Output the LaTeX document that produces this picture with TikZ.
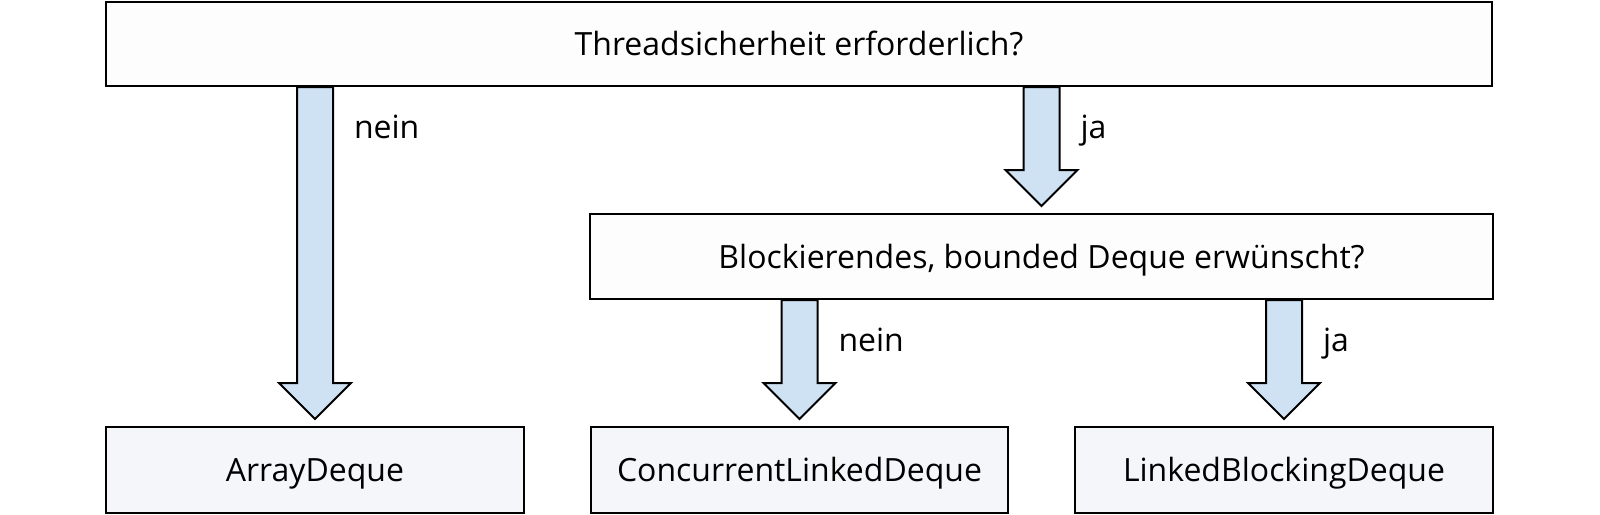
\documentclass[tikz,border=0pt]{standalone}
\usepackage{fontspec}
\setmainfont{Open Sans}
\usetikzlibrary{calc}
\definecolor{boxfill}{HTML}{FDFDFD}
\definecolor{leaffill}{HTML}{F4F6FA}
\definecolor{arrowfill}{HTML}{CFE2F3}
\tikzset{
  qbox/.style={draw=black, line width=2pt, fill=boxfill, inner sep=0pt, text height=23pt, text depth=0pt, font=\fontsize{32}{38}\selectfont},
  leaf/.style={qbox, fill=leaffill},
  fatarrow/.style={draw=black, line width=2pt, fill=arrowfill, line join=miter},
  lbl/.style={anchor=base west, inner sep=0pt, font=\fontsize{32}{38}\selectfont},
}
\newcommand{\dfarrow}[3]{%
  \draw[fatarrow] let \p1=(#2.north), \p2=(#1.south) in
    (\x1-18pt,\y2) -- (\x1-18pt,\y1+43pt) -- (\x1-36pt,\y1+43pt) -- (\x1,\y1+7pt)
    -- (\x1+36pt,\y1+43pt) -- (\x1+18pt,\y1+43pt) -- (\x1+18pt,\y2) -- cycle
    (\x1+38pt,\y2-51pt) node[lbl] {#3};}
\begin{document}
\begin{tikzpicture}[x=1pt,y=-1pt]
\useasboundingbox (0,0) rectangle (1600,514);
\node[qbox, minimum width=1386pt, minimum height=84pt] (top) at (799,44) {Threadsicherheit erforderlich?};
\node[qbox, minimum width=903pt, minimum height=85pt] (mid) at (1041.5,256.5) {Blockierendes, bounded Deque erwünscht?};
\node[leaf, minimum width=418pt, minimum height=86pt] (ad) at (315,470) {ArrayDeque};
\node[leaf, minimum width=417pt, minimum height=86pt] (cl) at (799.5,470) {ConcurrentLinkedDeque};
\node[leaf, minimum width=418pt, minimum height=86pt] (lb) at (1284,470) {LinkedBlockingDeque};
\dfarrow{top}{ad}{nein}
\dfarrow{top}{mid}{ja}
\dfarrow{mid}{cl}{nein}
\dfarrow{mid}{lb}{ja}
\end{tikzpicture}
\end{document}
